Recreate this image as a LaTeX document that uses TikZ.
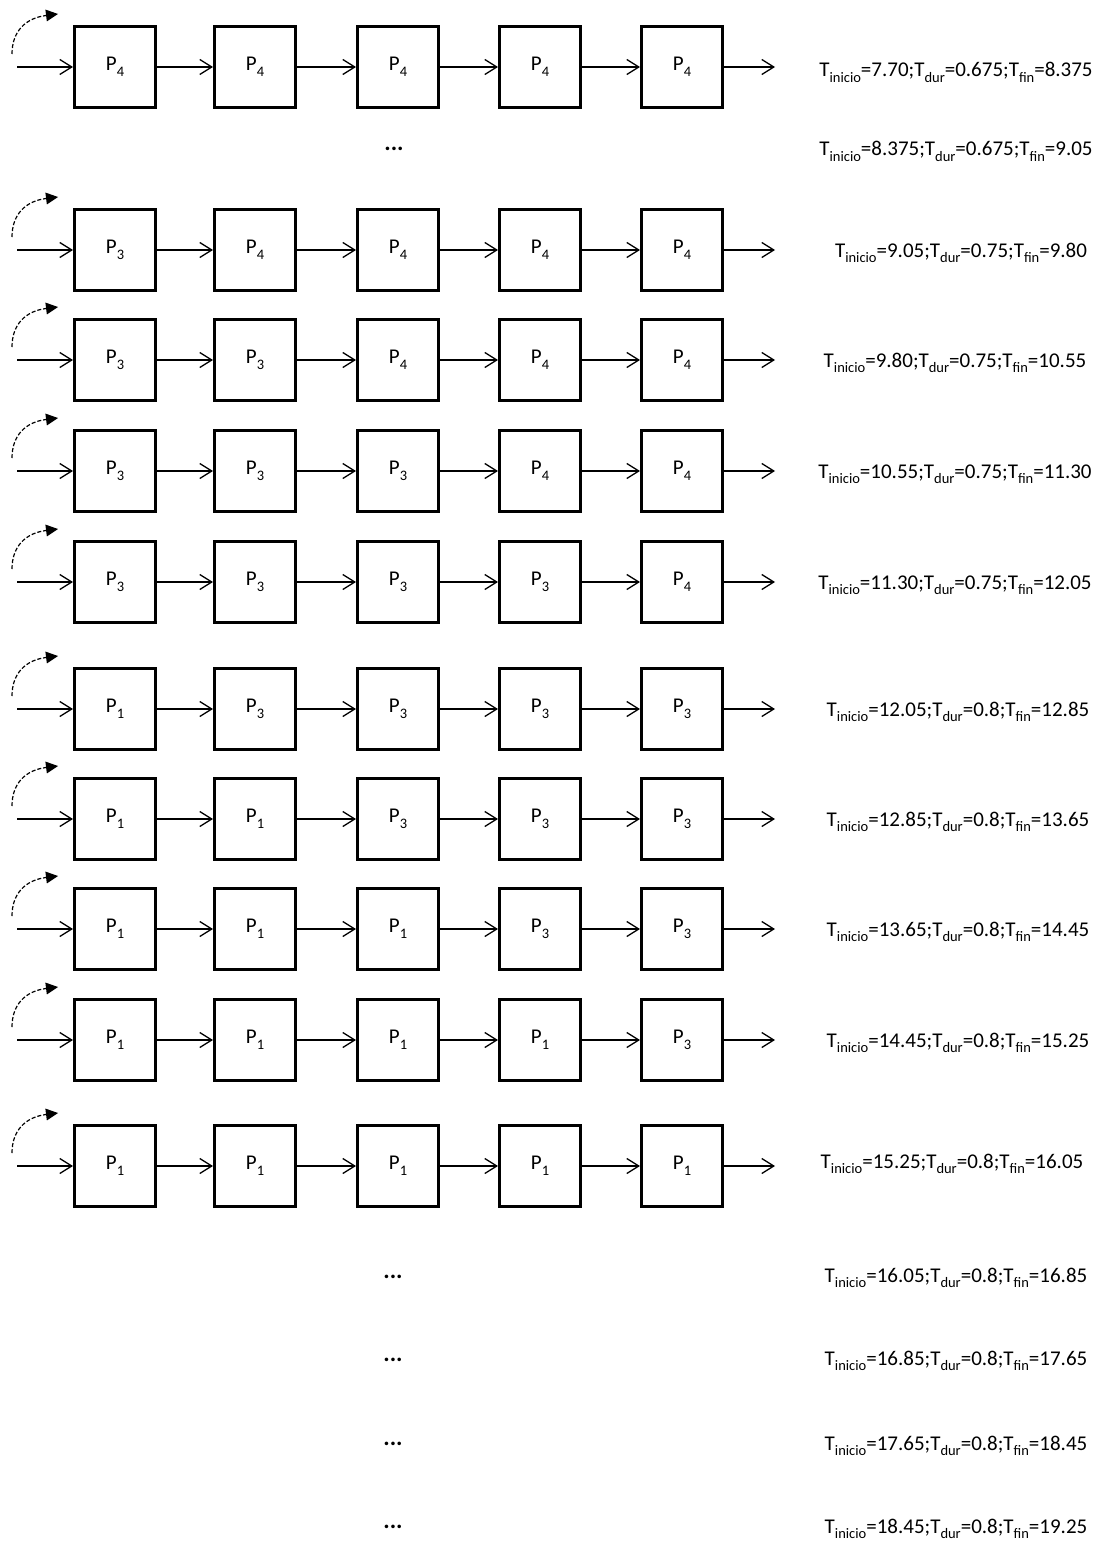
\documentclass[tikz,border=0pt]{standalone}
\usepackage{fontspec}
\setmainfont{Carlito}
\usetikzlibrary{arrows.meta}
\newcommand{\sbs}[1]{\raisebox{-0.27em}{\fontsize{14.5}{15}\selectfont #1}}
\newcommand{\tlab}[3]{T\sbs{inicio}=#1;T\sbs{dur}=#2;T\sbs{fin}=#3}
\tikzset{
  pbox/.style={draw, line width=3pt, minimum width=81pt, minimum height=81pt, inner sep=0pt, font=\fontsize{21}{25}\selectfont},
  flow/.style={line width=1.3pt, -{Straight Barb[length=12pt,width=15pt,line width=1.3pt]}},
  loopback/.style={line width=1.2pt, dash pattern=on 4pt off 2pt, -{Triangle[length=12pt,width=12pt,line width=0pt]}},
  tlabel/.style={anchor=base, inner sep=0pt, font=\fontsize{21}{25}\selectfont},
  ellip/.style={anchor=base, inner sep=0pt, font=\fontsize{24}{28}\selectfont\bfseries}
}
% #1 row id, #2 row y, #3..#7 subscripts of the five boxes
\newcommand{\chainrow}[7]{%
  \node[pbox] (#1b1) at (115,#2) {P\sbs{#3}};
  \node[pbox] (#1b2) at (255,#2) {P\sbs{#4}};
  \node[pbox] (#1b3) at (398,#2) {P\sbs{#5}};
  \node[pbox] (#1b4) at (540,#2) {P\sbs{#6}};
  \node[pbox] (#1b5) at (682,#2) {P\sbs{#7}};
  \coordinate (#1in) at (17,#2);
  \coordinate (#1out) at (775,#2);
  \coordinate (#1ds) at (12,#2-13);
  \coordinate (#1de) at (58,#2-53);
  \draw[flow] (#1in) -- (#1b1);
  \draw[flow] (#1b1) -- (#1b2);
  \draw[flow] (#1b2) -- (#1b3);
  \draw[flow] (#1b3) -- (#1b4);
  \draw[flow] (#1b4) -- (#1b5);
  \draw[flow] (#1b5) -- (#1out);
  \draw[loopback] (#1ds) .. controls (12,#2-36) and (26,#2-49) .. (#1de);
}
\begin{document}
\begin{tikzpicture}[x=1pt,y=-1pt]
\useasboundingbox[fill=white] (0,0) rectangle (1098,1541);

\chainrow{ra}{67}{4}{4}{4}{4}{4}
\node[tlabel] (la) at (956,77) {\tlab{7.70}{0.675}{8.375}};

\node[ellip] (e0) at (394,151) {...};
\node[tlabel] (l0) at (956,156) {\tlab{8.375}{0.675}{9.05}};

\chainrow{rb}{250}{3}{4}{4}{4}{4}
\node[tlabel] (lb) at (961,257) {\tlab{9.05}{0.75}{9.80}};

\chainrow{rc}{360}{3}{3}{4}{4}{4}
\node[tlabel] (lc) at (955,367) {\tlab{9.80}{0.75}{10.55}};

\chainrow{rd}{471}{3}{3}{3}{4}{4}
\node[tlabel] (ld) at (955,478) {\tlab{10.55}{0.75}{11.30}};

\chainrow{re}{582}{3}{3}{3}{3}{4}
\node[tlabel] (le) at (955,589) {\tlab{11.30}{0.75}{12.05}};

\chainrow{rf}{709}{1}{3}{3}{3}{3}
\node[tlabel] (lf) at (958,716) {\tlab{12.05}{0.8}{12.85}};

\chainrow{rg}{819}{1}{1}{3}{3}{3}
\node[tlabel] (lg) at (958,826) {\tlab{12.85}{0.8}{13.65}};

\chainrow{rh}{929}{1}{1}{1}{3}{3}
\node[tlabel] (lh) at (958,936) {\tlab{13.65}{0.8}{14.45}};

\chainrow{ri}{1040}{1}{1}{1}{1}{3}
\node[tlabel] (li) at (958,1047) {\tlab{14.45}{0.8}{15.25}};

\chainrow{rj}{1166}{1}{1}{1}{1}{1}
\node[tlabel] (lj) at (952,1168) {\tlab{15.25}{0.8}{16.05}};

\node[ellip] (e1) at (393,1278) {...};
\node[tlabel] (l1) at (956,1282) {\tlab{16.05}{0.8}{16.85}};
\node[ellip] (e2) at (393,1361) {...};
\node[tlabel] (l2) at (956,1365) {\tlab{16.85}{0.8}{17.65}};
\node[ellip] (e3) at (393,1445) {...};
\node[tlabel] (l3) at (956,1450) {\tlab{17.65}{0.8}{18.45}};
\node[ellip] (e4) at (393,1528) {...};
\node[tlabel] (l4) at (956,1533) {\tlab{18.45}{0.8}{19.25}};
\end{tikzpicture}
\end{document}
